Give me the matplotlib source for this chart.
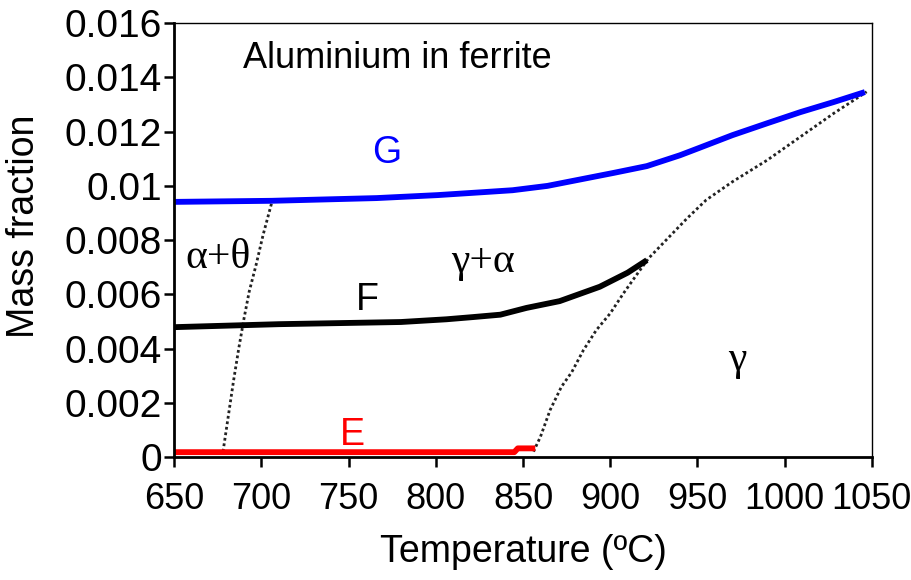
import matplotlib
matplotlib.use("Agg")
import matplotlib.pyplot as plt
from matplotlib import font_manager

# curve E (red), F (black), G (blue): Al mass fraction in ferrite vs temperature
E_T = [650, 845, 847, 857]
E_val = [0.00018, 0.00018, 0.00032, 0.00032]

F_T = [650, 710, 780, 806, 821, 837, 852, 871, 894, 910, 921]
F_val = [0.00479, 0.0049, 0.00498, 0.00508, 0.00516, 0.00525, 0.0055, 0.00575, 0.00628, 0.0068, 0.00726]

G_T = [650, 706, 766, 801, 825, 844, 864, 883, 902, 921, 940, 951, 970, 990, 1009, 1028, 1046]
G_val = [0.00941, 0.00945, 0.00955, 0.00966, 0.00976, 0.00984, 0.01, 0.01024, 0.01048,
         0.01073, 0.01113, 0.0114, 0.01187, 0.01231, 0.01272, 0.01309, 0.01346]

# phase boundaries (dotted)
theta_T = [678, 681, 684, 687, 690, 693, 697, 701, 706]
theta_val = [0.0002, 0.0015, 0.0028, 0.0040, 0.0051, 0.0061, 0.0071, 0.0082, 0.0094]

gamma_T = [856, 860, 865.5, 872, 878, 884.6, 892, 900, 907.5, 915, 922, 932, 944, 955,
           970, 990, 1009, 1028, 1047]
gamma_val = [0.0002, 0.00075, 0.00173, 0.00259, 0.00314, 0.00394, 0.00468, 0.0053, 0.00603,
             0.00671, 0.00733, 0.008, 0.0088, 0.00948, 0.01015, 0.01095, 0.01181, 0.01267, 0.01347]

x_ticks = [650, 700, 750, 800, 850, 900, 950, 1000, 1050]
y_ticks = [0, 0.002, 0.004, 0.006, 0.008, 0.01, 0.012, 0.014, 0.016]
y_labels = ["0", "0.002", "0.004", "0.006", "0.008", "0.01", "0.012", "0.014", "0.016"]

names = {f.name for f in font_manager.fontManager.ttflist}
narrow = "Liberation Sans Narrow" if "Liberation Sans Narrow" in names else "Liberation Sans"
plt.rcParams['font.family'] = ['Liberation Sans', 'DejaVu Sans']

fig = plt.figure(figsize=(9.12, 5.8), dpi=100)
ax = fig.add_axes([0.191, 0.212, 0.765, 0.748])

dots = (0, (1, 1))
ax.plot(theta_T, theta_val, ls=dots, color='#222222', lw=2.0)
ax.plot(gamma_T, gamma_val, ls=dots, color='#222222', lw=2.0)
ax.plot(G_T, G_val, color='#0000ff', lw=4.2, solid_capstyle='butt')
ax.plot(F_T, F_val, color='black', lw=4.2, solid_capstyle='butt')
ax.plot(E_T, E_val, color='#ff0000', lw=4.2, solid_capstyle='butt')

ax.set_xlim(650, 1050)
ax.set_ylim(0, 0.016)
ax.set_xticks(x_ticks)
ax.set_xticklabels([str(t) for t in x_ticks], family=narrow, fontsize=26)
ax.set_yticks(y_ticks)
ax.set_yticklabels(y_labels, fontsize=28)
ax.tick_params(direction='out', length=7, width=1.8)
ax.tick_params(axis='x', pad=11)
ax.tick_params(axis='y', pad=2)

for s in ['left', 'bottom']:
    ax.spines[s].set_linewidth(2)
for s in ['top', 'right']:
    ax.spines[s].set_linewidth(1)

ax.set_xlabel("Temperature (ºC)", family=narrow, fontsize=27, labelpad=12)
ax.set_ylabel("Mass fraction", fontsize=27)
ax.yaxis.set_label_coords(-0.19, 0.531)

ax.text(778, 0.0147, "Aluminium in ferrite", fontsize=26, ha='center', va='center')
ax.text(772, 0.0112, "G", color='#0000ff', fontsize=27, ha='center', va='center')
ax.text(760.5, 0.0058, "F", color='black', fontsize=27, ha='center', va='center')
ax.text(752, 0.0008, "E", color='#ff0000', fontsize=27, ha='center', va='center')

greek = ['Liberation Serif', 'DejaVu Serif']
ax.text(675, 0.00734, "α+θ", family=greek, fontsize=30, ha='center', va='center')
ax.text(827, 0.0072, "γ+α", family=greek, fontsize=30, ha='center', va='center')
ax.text(973, 0.0036, "γ", family=greek, fontsize=30, ha='center', va='center')

fig.savefig("out.png", dpi=100)
